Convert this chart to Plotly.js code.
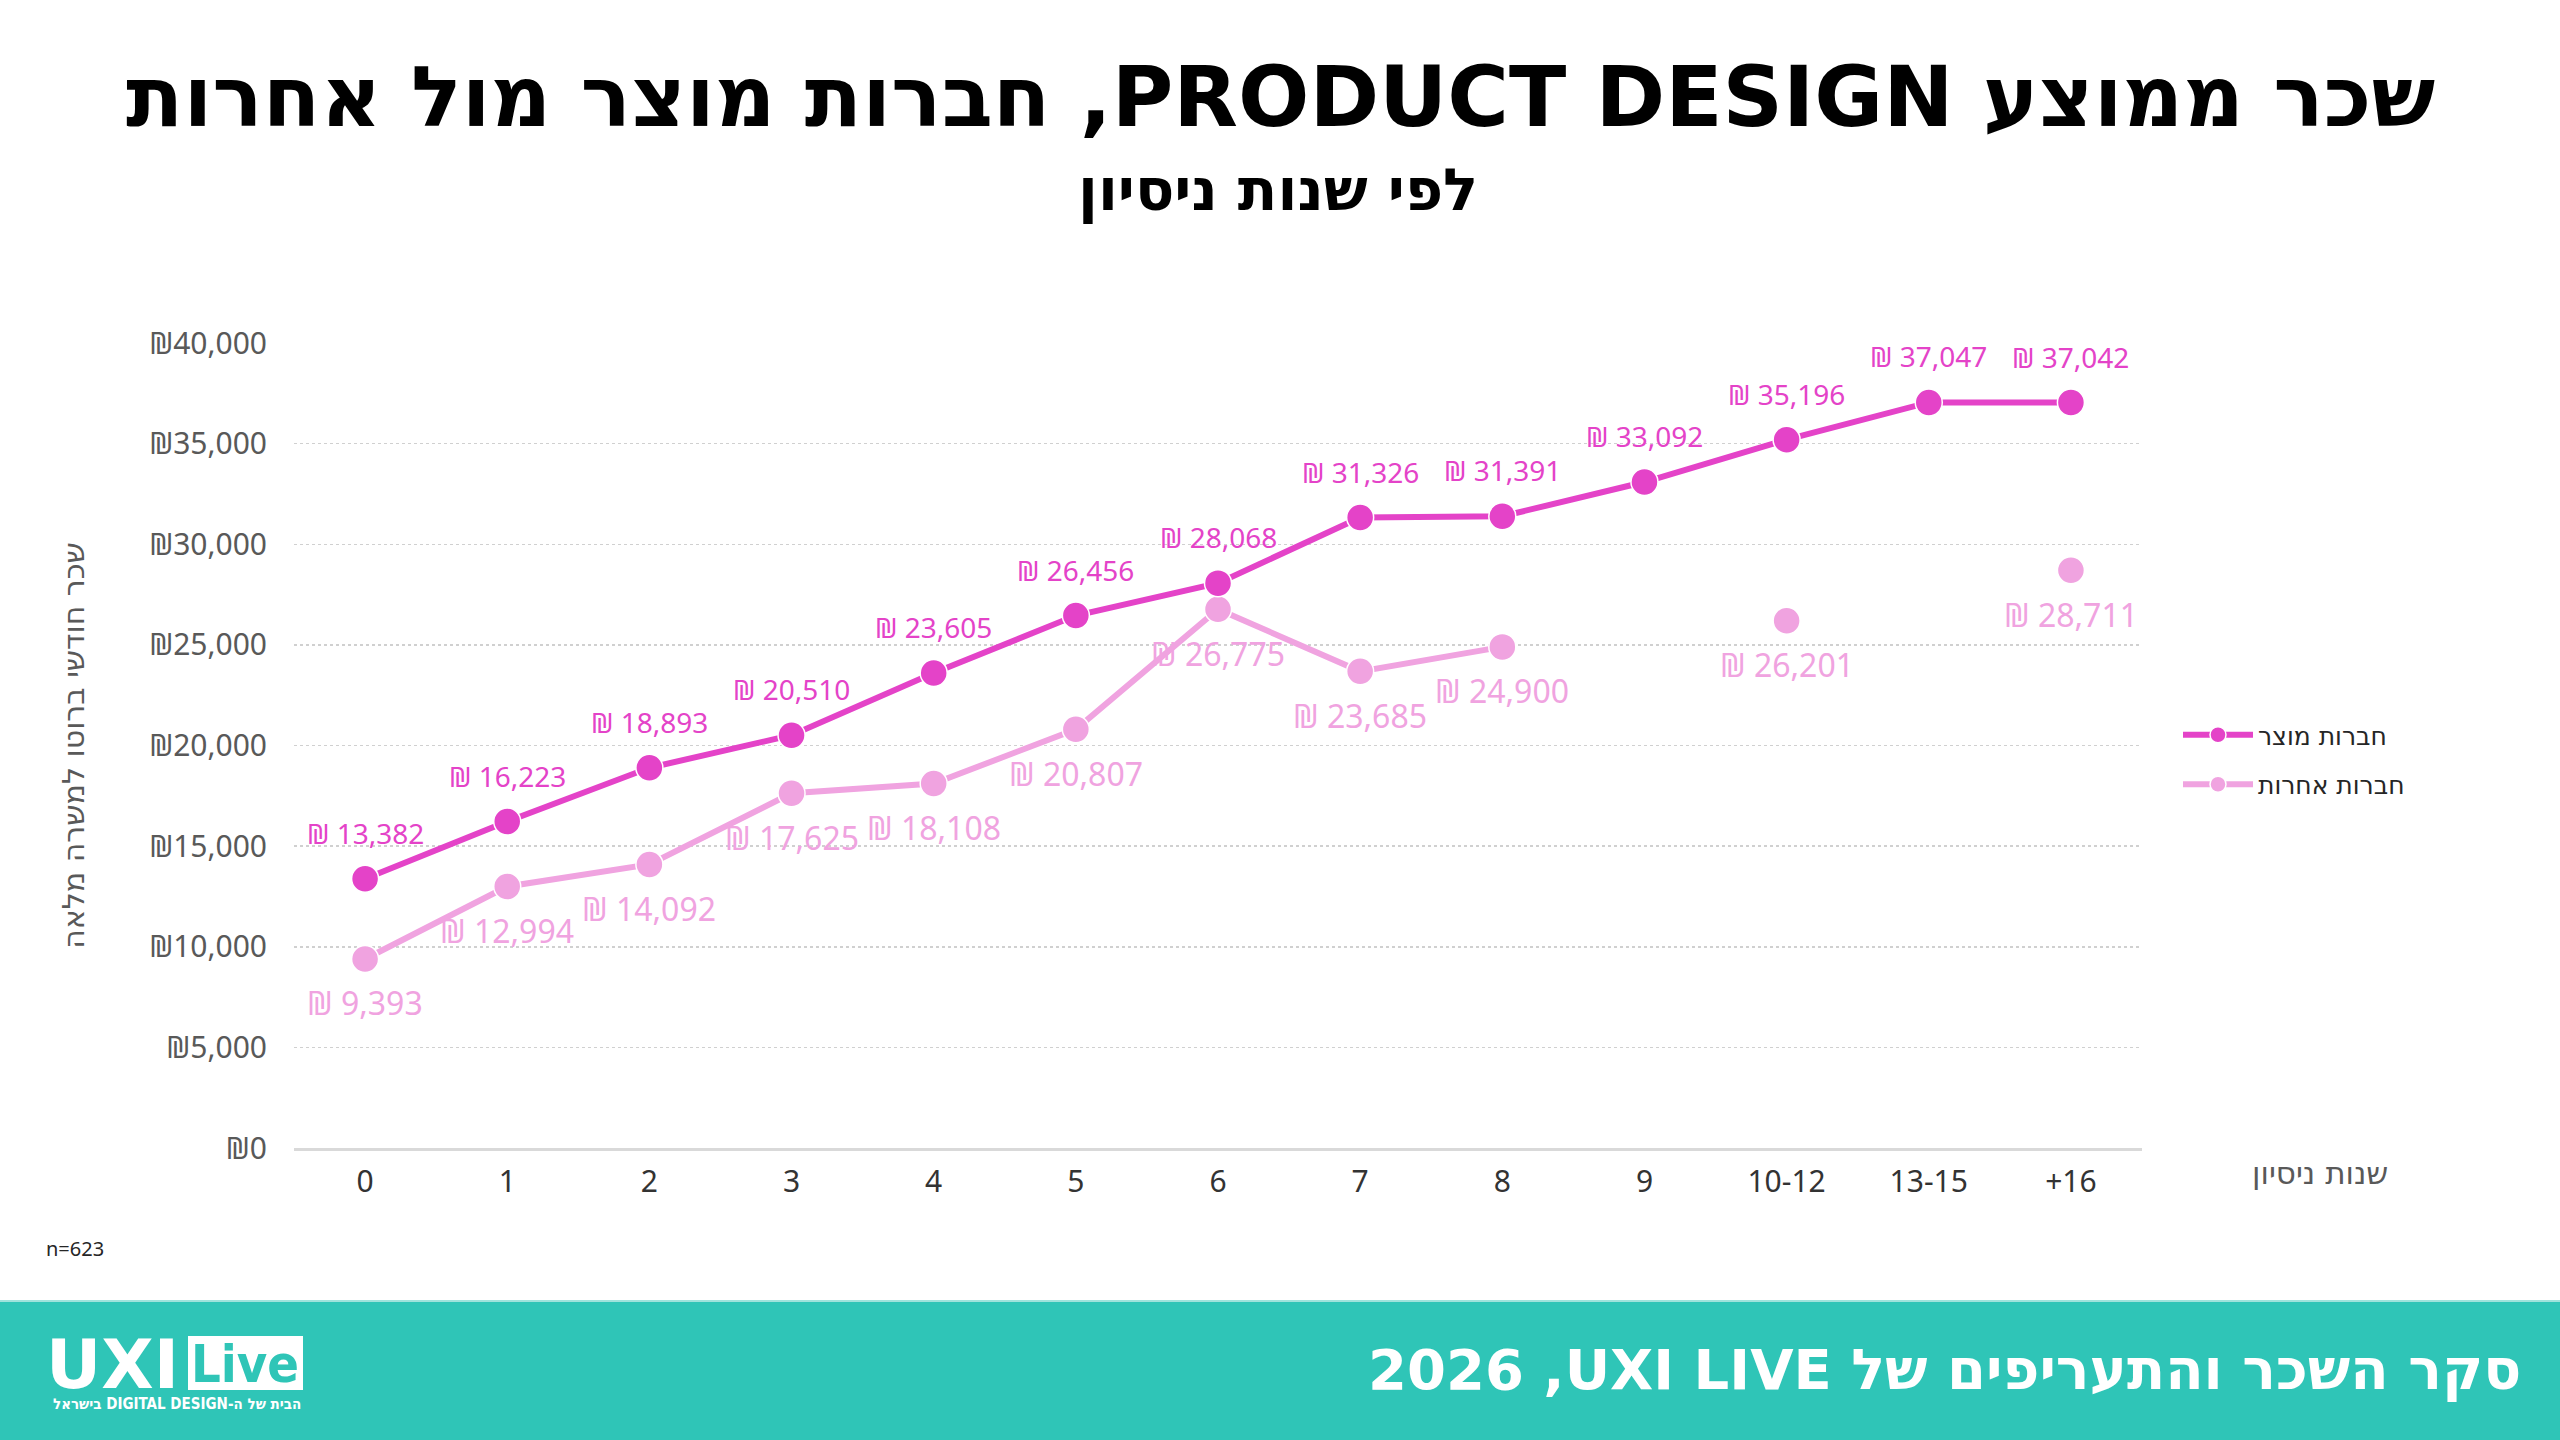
<!DOCTYPE html>
<html>
<head>
<meta charset="utf-8">
<script src="https://cdn.plot.ly/plotly-3.0.1.min.js"></script>
<style>html,body{margin:0;padding:0;background:#fff;}#chart{width:2560px;height:1440px;}</style>
</head>
<body>
<div id="chart"></div>
<script>
// ---- data ----
const categories = ['0','1','2','3','4','5','6','7','8','9','10-12','13-15','+16'];
const productValues = [13382, 16223, 18893, 20510, 23605, 26456, 28068, 31326, 31391, 33092, 35196, 37047, 37042];
const otherValues = [9393, 12994, 14092, 17625, 18108, 20807, 26775, 23685, 24900, null, 26201, null, 28711];
const seriesNames = ['חברות מוצר', 'חברות אחרות'];
const yTickValues = [0, 5000, 10000, 15000, 20000, 25000, 30000, 35000, 40000];
const yTickLabels = ['₪0', '₪5,000', '₪10,000', '₪15,000', '₪20,000', '₪25,000', '₪30,000', '₪35,000', '₪40,000'];

const titleText = 'שכר ממוצע PRODUCT DESIGN, חברות מוצר מול אחרות';
const subtitleText = 'לפי שנות ניסיון';
const yTitleText = 'שכר חודשי ברוטו למשרה מלאה';
const xTitleText = 'שנות ניסיון';
const footerText = 'סקר השכר והתעריפים של UXI LIVE,\u200F 2026';
const taglineText = 'הבית של ה-DIGITAL DESIGN בישראל';
const sampleText = 'n=623';

// ---- layout geometry ----
const W = 2560, H = 1440;
const L = 294, R = 2142, T = 343, B = 1148;
const px = x => (x - L) / (R - L);
const py = y => (B - y) / (B - T);
const rtl = s => '\u202B' + s + '\u202C';

const PRODUCT = '#E443C8';
const OTHER = '#F0A3E0';
const TEAL = '#2FC5B7';
const HEB = 'DejaVu Sans';
const HEBC = 'DejaVu Sans Condensed';
const NUM = 'Noto Sans';

const fmt = v => '₪ ' + v.toLocaleString('en-US');

const traces = [
  {
    x: categories, y: otherValues, name: seriesNames[1], type: 'scatter',
    mode: 'lines+markers', connectgaps: false,
    line: {color: OTHER, width: 6},
    marker: {color: OTHER, size: 27, line: {color: '#ffffff', width: 1.5}},
    legendrank: 2, legendgroup: 'b', cliponaxis: false, hoverinfo: 'skip'
  },
  {
    x: categories, y: productValues, name: seriesNames[0], type: 'scatter',
    mode: 'lines+markers',
    line: {color: PRODUCT, width: 6},
    marker: {color: PRODUCT, size: 27, line: {color: '#ffffff', width: 1.5}},
    legendrank: 1, legendgroup: 'a', cliponaxis: false, hoverinfo: 'skip'
  }
];

const annotations = [
  {text: rtl(titleText), x: px(1280), y: py(97), xref: 'paper', yref: 'paper', xanchor: 'center', yanchor: 'middle', showarrow: false,
   font: {family: HEB, size: 84, color: '#000000', weight: 'bold'}},
  {text: rtl(subtitleText), x: px(1278), y: py(190), xref: 'paper', yref: 'paper', xanchor: 'center', yanchor: 'middle', showarrow: false,
   font: {family: HEB, size: 58, color: '#000000', weight: 'bold'}},
  {text: xTitleText, x: px(2320), y: py(1173), xref: 'paper', yref: 'paper', xanchor: 'center', yanchor: 'middle', showarrow: false,
   font: {family: HEB, size: 31, color: '#595959'}},
  {text: sampleText, x: px(44), y: py(1248), xref: 'paper', yref: 'paper', xanchor: 'left', yanchor: 'middle', showarrow: false,
   font: {family: NUM, size: 20, color: '#262626'}},
  {text: rtl(footerText), x: px(2523), y: py(1369), xref: 'paper', yref: 'paper', xanchor: 'right', yanchor: 'middle', showarrow: false,
   font: {family: HEB, size: 56, color: '#ffffff', weight: 'bold'}},
  {text: 'UXI', x: px(44), y: py(1364), xref: 'paper', yref: 'paper', xanchor: 'left', yanchor: 'middle', showarrow: false,
   font: {family: HEB, size: 68, color: '#ffffff', weight: 'bold'}},
  {text: 'Live', x: px(245), y: py(1364), xref: 'paper', yref: 'paper', xanchor: 'center', yanchor: 'middle', showarrow: false,
   font: {family: HEBC, size: 52, color: TEAL, weight: 'bold'}},
  {text: rtl(taglineText), x: px(303), y: py(1404), xref: 'paper', yref: 'paper', xanchor: 'right', yanchor: 'middle', showarrow: false,
   font: {family: HEBC, size: 15, color: '#ffffff', weight: 'bold'}}
];

// data labels anchored at the data points (category index on the category axis)
productValues.forEach((v, i) => {
  if (v == null) return;
  annotations.push({text: fmt(v), x: i, y: v, xref: 'x', yref: 'y', xanchor: 'center', yanchor: 'middle',
    yshift: 46, showarrow: false, font: {family: NUM, size: 28, color: PRODUCT}});
});
otherValues.forEach((v, i) => {
  if (v == null) return;
  annotations.push({text: fmt(v), x: i, y: v, xref: 'x', yref: 'y', xanchor: 'center', yanchor: 'middle',
    yshift: -44, showarrow: false, font: {family: NUM, size: 32, color: OTHER}});
});

const shapes = [
  {type: 'rect', xref: 'paper', yref: 'paper', x0: px(0), x1: px(W), y0: py(H), y1: py(1301), fillcolor: TEAL, line: {width: 0}, layer: 'below'},
  {type: 'line', xref: 'paper', yref: 'paper', x0: px(0), x1: px(W), y0: py(1301), y1: py(1301), line: {color: '#9fe3dc', width: 2}, layer: 'below'},
  {type: 'rect', xref: 'paper', yref: 'paper', x0: px(188), x1: px(303), y0: py(1390), y1: py(1336), fillcolor: '#ffffff', line: {width: 0}, layer: 'above'}
];

const layout = {
  width: W, height: H, autosize: false,
  margin: {l: L, r: W - R, t: T, b: H - B, pad: 0},
  paper_bgcolor: '#ffffff', plot_bgcolor: '#ffffff',
  font: {family: NUM, color: '#333333'},
  showlegend: true,
  legend: {x: px(2178), y: py(712), xanchor: 'left', yanchor: 'top', xref: 'paper', yref: 'paper', itemwidth: 70,
           font: {family: HEB, size: 25, color: '#262626'}, bgcolor: 'rgba(0,0,0,0)', tracegroupgap: 14, itemclick: false},
  xaxis: {
    type: 'category', categoryorder: 'array', categoryarray: categories, range: [-0.5, categories.length - 0.5],
    showgrid: false, zeroline: false, showline: true, linecolor: '#d9d9d9', linewidth: 3,
    ticks: '', ticklabelstandoff: 5, tickfont: {family: NUM, size: 30, color: '#333333'}, fixedrange: true
  },
  yaxis: {
    range: [0, 40000], tickmode: 'array', tickvals: yTickValues, ticktext: yTickLabels,
    showgrid: true, gridcolor: '#d0d0d0', gridwidth: 1.5, griddash: 'dot',
    zeroline: false, showline: false, ticks: '', ticklabelstandoff: 26,
    tickfont: {family: NUM, size: 30, color: '#595959'}, fixedrange: true,
    title: {text: yTitleText, standoff: 55, font: {family: HEB, size: 30, color: '#595959'}}
  },
  annotations: annotations,
  shapes: shapes
};

Plotly.newPlot('chart', traces, layout, {displayModeBar: false, staticPlot: true});
</script>
</body>
</html>
